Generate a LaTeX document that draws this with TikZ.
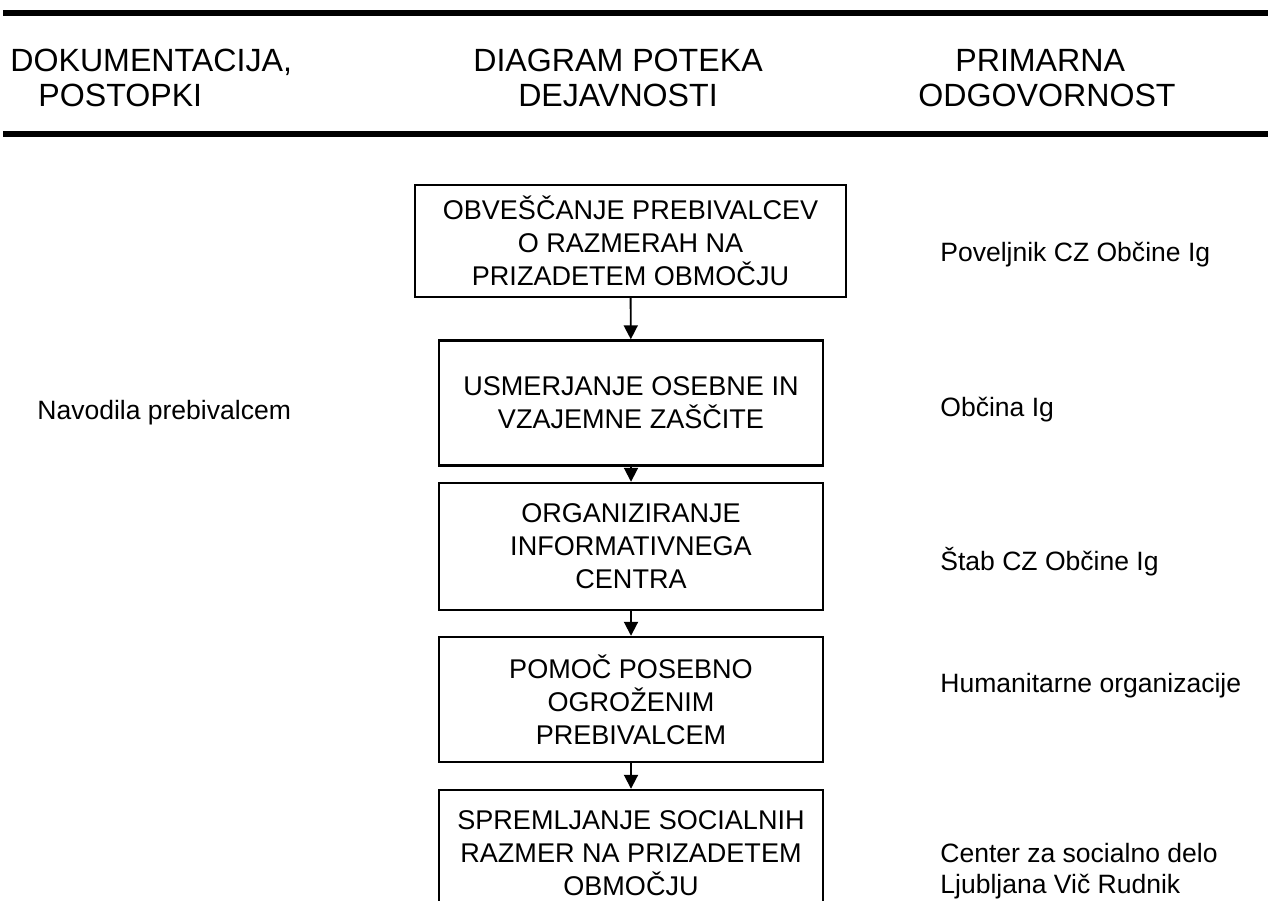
\documentclass[tikz,border=0pt]{standalone}
\usepackage{fontspec}
\setmainfont{Liberation Sans}
\usetikzlibrary{arrows.meta}

\tikzset{
  head/.style={inner sep=0pt, font=\fontsize{18.3}{19.9}\selectfont},
  stepbox/.style={draw, line width=1.4pt, align=center, inner sep=0pt,
    minimum width=7.68cm, font=\fontsize{15.4}{18.8}\selectfont},
  resp/.style={anchor=west, inner sep=0pt, align=left,
    font=\fontsize{15.1}{17.6}\selectfont},
  flow/.style={line width=1.1pt, -{Triangle[length=0.28cm,width=0.28cm]}}
}

\begin{document}
\begin{tikzpicture}[x=0.02cm, y=-0.02cm]
		\clip (0,0) rectangle (1268,900);

		% header rules
		\fill (3,10) rectangle (1268,16);
		\fill (3,131) rectangle (1268,137);

		\node (dok)[head, anchor=north west, align=left] at (10,49) {DOKUMENTACIJA,\\\hspace*{0.56cm}POSTOPKI};
		\node (diag)[head, anchor=north, align=center] at (618,49) {DIAGRAM POTEKA\\DEJAVNOSTI};
		\node (prim)[head, anchor=north west, align=left] at (918,49) {\hspace*{0.74cm}PRIMARNA\\ODGOVORNOST};

		\node (obv)[stepbox, minimum width=8.62cm, minimum height=2.24cm] at (630.5,241) {OBVEŠČANJE PREBIVALCEV\\O RAZMERAH NA\\PRIZADETEM OBMOČJU};
		\node (usm)[stepbox, minimum height=2.5cm] at (631,403) {USMERJANJE OSEBNE IN\\VZAJEMNE ZAŠČITE};
		\node (org)[stepbox, minimum height=2.54cm] at (631,546.5) {ORGANIZIRANJE\\INFORMATIVNEGA\\CENTRA};
		\node (pom)[stepbox, minimum height=2.5cm] at (631,699.5) {POMOČ POSEBNO\\OGROŽENIM\\PREBIVALCEM};
		\node (spr)[stepbox, minimum height=2.52cm] at (631,853) {SPREMLJANJE SOCIALNIH\\RAZMER NA PRIZADETEM\\OBMOČJU};

		\node (nav)[resp] at (37,413) {Navodila prebivalcem};
		\node (pov)[resp] at (940,255) {Poveljnik CZ Občine Ig};
		\node (obc)[resp] at (940,410) {Občina Ig};
		\node (stab)[resp] at (940,562) {Štab CZ Občine Ig};
		\node (hum)[resp] at (940,686) {Humanitarne organizacije};
		\node (csd)[resp] at (940,871) {Center za socialno delo\\Ljubljana Vič Rudnik};

		\draw [flow](obv)--(usm);
		\draw [flow](usm)--(org);
		\draw [flow](org)--(pom);
		\draw [flow](pom)--(spr);
	\end{tikzpicture}
\end{document}
